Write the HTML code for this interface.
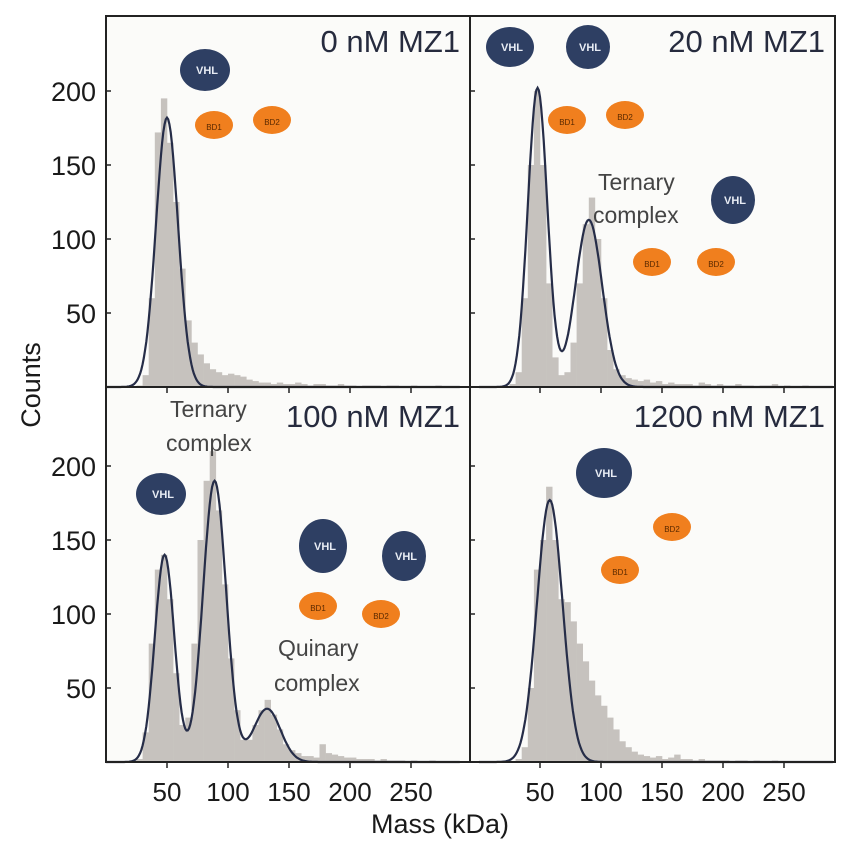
<!DOCTYPE html>
<html><head><meta charset="utf-8"><style>
body{margin:0;background:#fff;}
svg text{font-family:"Liberation Sans",sans-serif;}
</style></head><body>
<svg id="c" width="847" height="850" xmlns="http://www.w3.org/2000/svg">
<rect x="0" y="0" width="847" height="850" fill="#ffffff"/>
<rect x="106" y="16" width="729" height="746" fill="#fbfbf9"/>
<g id="bars"></g><g id="fits"></g><g id="axes"></g><g id="art"></g>
</svg>
<script>
const binStart = 20, binStep = 5;
const counts0 = [0,1,8,60,172,195,165,125,80,45,30,22,16,12,10,8,9,8,7,5,4,3,3,2,3,2,2,3,2,1,2,2,1,1,2,1,1,0,1,1,1,0,1,1,0,0,1,0,0,0,1,0,0,0,0,0];
const counts20 = [0,2,10,60,150,200,150,70,20,8,10,30,70,110,128,100,60,25,12,8,6,5,4,5,3,4,2,3,2,2,2,1,3,2,1,2,1,1,2,1,1,0,1,1,2,0,1,0,0,1,0,0,0,0,0,0];
const counts100 = [0,2,20,80,130,140,110,60,25,30,80,150,190,210,170,120,70,35,15,15,25,35,42,32,22,12,8,6,4,4,3,12,6,5,4,3,3,2,2,2,1,2,1,1,1,0,1,0,0,1,0,0,0,0,0,0];
const counts1200 = [0,0,2,10,50,130,150,186,150,110,108,95,80,68,55,45,38,30,22,14,10,7,5,4,3,4,2,3,5,2,2,1,2,1,1,1,1,0,1,1,0,1,0,0,1,0,0,0,0,0,0,0,0,0,0,0];
// gaussian fits: [mean, sigma, amplitude]
const fit0 = [[50,9,182]];
const fit20 = [[48,8,202],[90,11,113]];
const fit100 = [[48,8,140],[89,9.5,190],[132,11,36]];
const fit1200 = [[58,10.5,177]];
const xTicks = [50,100,150,200,250];
const yTicks = [50,100,150,200];
const panels = [
 {name:'0nm',title:'0 nM MZ1',counts:counts0,fit:fit0,x0:106,x1:470,y0:387,showY:true,showX:false},
 {name:'20nm',title:'20 nM MZ1',counts:counts20,fit:fit20,x0:470,x1:835,y0:387,showY:false,showX:false},
 {name:'100nm',title:'100 nM MZ1',counts:counts100,fit:fit100,x0:106,x1:470,y0:762,showY:true,showX:true},
 {name:'1200nm',title:'1200 nM MZ1',counts:counts1200,fit:fit1200,x0:470,x1:835,y0:762,showY:false,showX:true}
];
const NS='http://www.w3.org/2000/svg';
function mk(t,a,p){const e=document.createElementNS(NS,t);for(const k in a)e.setAttribute(k,a[k]);p.appendChild(e);return e;}
const bars=document.getElementById('bars'),fits=document.getElementById('fits'),axes=document.getElementById('axes');
panels.forEach(p=>{
 const off = p.x0===106?0:9;
 const xs = v => p.x0 + off + v*1.22;
 const ys = v => p.y0 - v*1.48;
 p.counts.forEach((c,i)=>{
  const a=binStart+i*binStep;
  const x=xs(a), w=xs(a+binStep)-x;
  if(x+w>p.x1-1) return;
  const r=mk('rect',{x:x,y:ys(c),width:w+0.3,height:p.y0-ys(c),fill:'#c6c2be'},bars);
  
  
 });
 let d='';
 for(let m=0;m<=290;m+=1){
  let v=0;p.fit.forEach(g=>{v+=g[2]*Math.exp(-((m-g[0])**2)/(2*g[1]*g[1]));});
  d+=(m===0?'M':'L')+xs(m).toFixed(1)+','+ys(v).toFixed(1);
 }
 const fp=mk('path',{d:d,fill:'none',stroke:'#262d48','stroke-width':2.2},fits);
 
 
 const fr=mk('rect',{x:p.x0,y:p.y0-375+ (p.y0===387?4:0),width:p.x1-p.x0,height:p.y0===387?371:375,fill:'none',stroke:'#222','stroke-width':2},axes);
 
 
 const tt=mk('text',{x:p.x1-10,y:p.y0===387?52:427,'text-anchor':'end','font-size':31,fill:'#262b3e'},axes);
 tt.textContent=p.title;
 
 
 yTicks.forEach(v=>{
  mk('line',{x1:p.x0,x2:p.x0+5,y1:ys(v),y2:ys(v),stroke:'#222','stroke-width':1.5},axes);
  if(p.showY){const t=mk('text',{x:p.x0-10,y:ys(v)+10,'text-anchor':'end','font-size':27,fill:'#1a1a1a'},axes);t.textContent=v;
   
   }
 });
 xTicks.forEach(v=>{
  mk('line',{x1:xs(v),x2:xs(v),y1:p.y0,y2:p.y0+6,stroke:'#222','stroke-width':1.5},axes);
  if(p.showX){const t=mk('text',{x:xs(v),y:p.y0+39,'text-anchor':'middle','font-size':26,fill:'#1a1a1a'},axes);t.textContent=v;
   
   }
 });
});
const yl=mk('text',{x:0,y:0,transform:'translate(40,385) rotate(-90)','text-anchor':'middle','font-size':27,fill:'#1a1a1a'},axes);
yl.textContent='Counts';


const xl=mk('text',{x:440,y:833,'text-anchor':'middle','font-size':27,fill:'#1a1a1a'},axes);
xl.textContent='Mass (kDa)';


const art=document.getElementById('art');
function vhl(cx,cy,rx,ry){
 const g=mk('g',{},art);
 
 
 mk('ellipse',{cx:cx,cy:cy,rx:rx,ry:ry,fill:'#2e3f63'},g);
 const t=mk('text',{x:cx+2,y:cy+4,'text-anchor':'middle','font-size':11,'font-weight':'bold',fill:'#e8ecf4'},g);t.textContent='VHL';
}
function bd(cx,cy,label){
 const g=mk('g',{},art);
 
 
 mk('ellipse',{cx:cx,cy:cy,rx:19,ry:14,fill:'#f07f1e'},g);
 const t=mk('text',{x:cx,y:cy+5,'text-anchor':'middle','font-size':8,fill:'#5a2a00'},g);t.textContent=label;
}
function label(x,y,txt){const t=mk('text',{x:x,y:y,'font-size':23,fill:'#444'},art);t.textContent=txt;
 
 }
vhl(205,70,25,21); bd(214,125,'BD1'); bd(272,120,'BD2');
vhl(510,47,24,20); vhl(588,47,22,22); bd(567,120,'BD1'); bd(625,115,'BD2');
vhl(733,200,22,24); bd(652,262,'BD1'); bd(716,262,'BD2');
label(598,190,'Ternary'); label(593,223,'complex');
vhl(161,494,25,21); vhl(323,546,24,27); vhl(404,556,22,25); bd(318,606,'BD1'); bd(381,614,'BD2');
label(170,417,'Ternary'); label(166,451,'complex');
label(278,656,'Quinary'); label(274,691,'complex');
vhl(604,473,28,25); bd(620,570,'BD1'); bd(672,527,'BD2');
</script>
</body></html>
